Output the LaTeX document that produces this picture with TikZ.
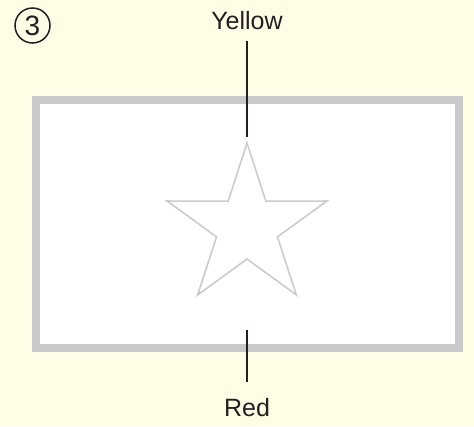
\documentclass[tikz,border=0pt]{standalone}
\usepackage{fontspec}
\setmainfont{Liberation Sans}
\definecolor{bgyellow}{HTML}{FFFDE5}
\definecolor{framegrey}{HTML}{C8C9C9}
\definecolor{stargrey}{HTML}{CCCCCC}
\definecolor{ink}{HTML}{231F20}
\begin{document}
\begin{tikzpicture}[x=1pt,y=-1pt,
  label/.style={font=\fontsize{25}{29}\selectfont, text=ink, inner sep=0pt},
  leader/.style={draw=ink, line width=2pt},
  flagframe/.style={draw=framegrey, line width=8pt, fill=white},
  starline/.style={draw=stargrey, line width=1.6pt, line join=miter}]
  \fill[bgyellow] (0,0) rectangle (474,426);
  \useasboundingbox (0,0) rectangle (474,426);
  % flag frame
  \path[flagframe] (35.5,100) rectangle (459,348);
  % star
  \path[starline] (247,227) +(-90:84) -- +(-126:32) -- +(-162:84) -- +(-198:32) -- +(-234:84)
     -- +(-270:32) -- +(-306:84) -- +(-342:32) -- +(-18:84) -- +(-54:32) -- cycle;
  % step number
  \node[draw=ink, line width=1.5pt, circle, minimum size=35pt, inner sep=0pt,
        font=\fontsize{28}{32}\selectfont, text=ink] (num) at (32.5,25.5) {3};
  % labels
  \node[label] (yellow) at (247,21) {Yellow};
  \node[label] (red) at (247,408) {Red};
  \coordinate (ytop) at (247,41);
  \coordinate (ybot) at (247,137);
  \coordinate (rtop) at (247,330);
  \coordinate (rbot) at (247,382);
  \path[leader] (ytop) -- (ybot);
  \path[leader] (rtop) -- (rbot);
\end{tikzpicture}
\end{document}
